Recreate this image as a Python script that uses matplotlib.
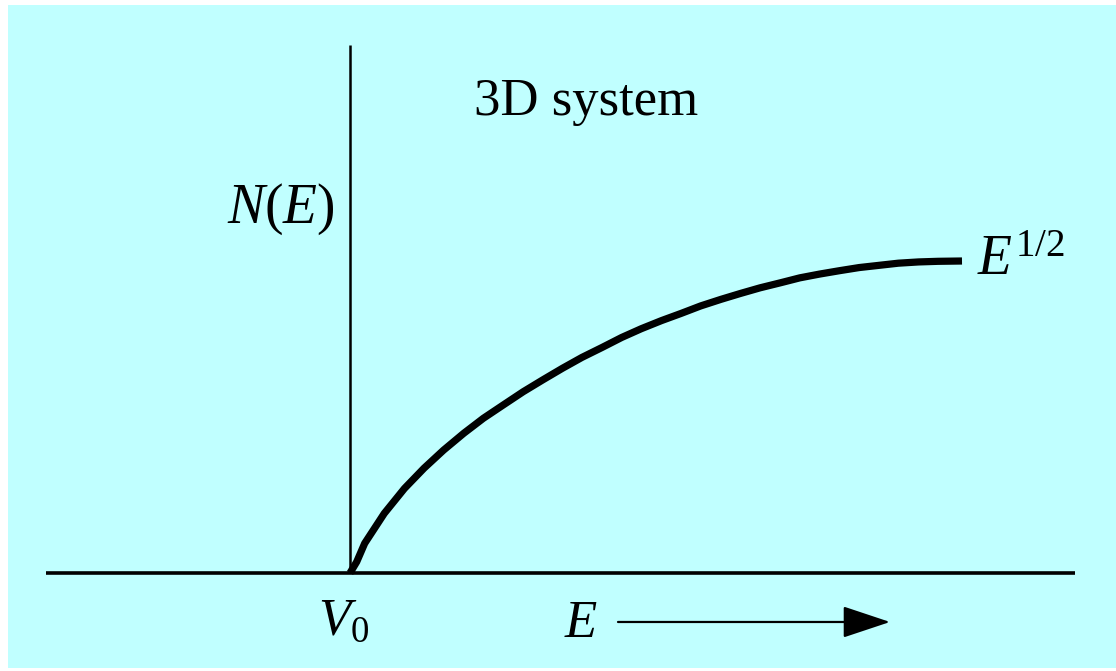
import matplotlib
matplotlib.use('Agg')
import matplotlib.pyplot as plt

# Data (E scaled 0..1, N(E) scaled 0..1)
energy = [0.0, 0.011, 0.024, 0.056, 0.089, 0.121, 0.153, 0.186, 0.218, 0.250,
          0.283, 0.315, 0.347, 0.379, 0.412, 0.444, 0.476, 0.509, 0.541,
          0.573, 0.606, 0.638, 0.670, 0.703, 0.735, 0.767, 0.800, 0.832,
          0.864, 0.896, 0.929, 0.961, 1.0]
density = [0.0, 0.036, 0.095, 0.191, 0.271, 0.336, 0.394, 0.448, 0.496, 0.538,
           0.581, 0.619, 0.656, 0.691, 0.723, 0.755, 0.783, 0.809, 0.832,
           0.856, 0.877, 0.896, 0.914, 0.930, 0.946, 0.958, 0.969, 0.979,
           0.986, 0.993, 0.997, 0.999, 1.0]

title_text = '3D system'
y_label = r'$N(E)$'
curve_label = r'$E^{1/2}$'
origin_label = r'$V_0$'
x_label = r'$E$'

plt.rcParams['font.family'] = 'Liberation Serif'
plt.rcParams['mathtext.fontset'] = 'custom'
plt.rcParams['mathtext.rm'] = 'Liberation Serif'
plt.rcParams['mathtext.it'] = 'Liberation Serif:italic'

W, H = 1116, 671
fig = plt.figure(figsize=(W / 100, H / 100), dpi=100, facecolor='white')

# cyan panel (pixel box 8..1116 x 5..668)
ax = fig.add_axes([8 / W, 3 / H, 1108 / W, 663 / H], facecolor='#c0ffff')
ax.set_xlim((8 - 350) / 612, (1116 - 350) / 612)
ax.set_ylim((573 - 668) / 312, (573 - 5) / 312)
for s in ax.spines.values():
    s.set_visible(False)
ax.set_xticks([])
ax.set_yticks([])

# axes lines
ax.plot([-0.497, 1.185], [0, 0], color='black', lw=2.6, solid_capstyle='butt')
ax.plot([0, 0], [0, 1.692], color='black', lw=1.8, solid_capstyle='butt')

# the curve
ax.plot(energy, density, color='black', lw=5.2, solid_capstyle='butt',
        solid_joinstyle='round')

ax.text(0.386, 1.51, title_text, fontsize=38, ha='center', va='center')
ax.text(-0.025, 1.165, y_label, fontsize=40, ha='right', va='center')
ax.text(1.025, 1.0, curve_label, fontsize=40, ha='left', va='center')
ax.text(-0.01, -0.155, origin_label, fontsize=38, ha='center', va='center')
ax.text(0.377, -0.165, x_label, fontsize=38, ha='center', va='center')

ax.annotate('', xy=((890 - 350) / 612, -0.157), xytext=((618 - 350) / 612, -0.157),
            arrowprops=dict(arrowstyle='-|>,head_length=3.0,head_width=1.0',
                            color='black', lw=1.6, shrinkA=0, shrinkB=0))

fig.savefig('out.png', dpi=100, facecolor='white')
